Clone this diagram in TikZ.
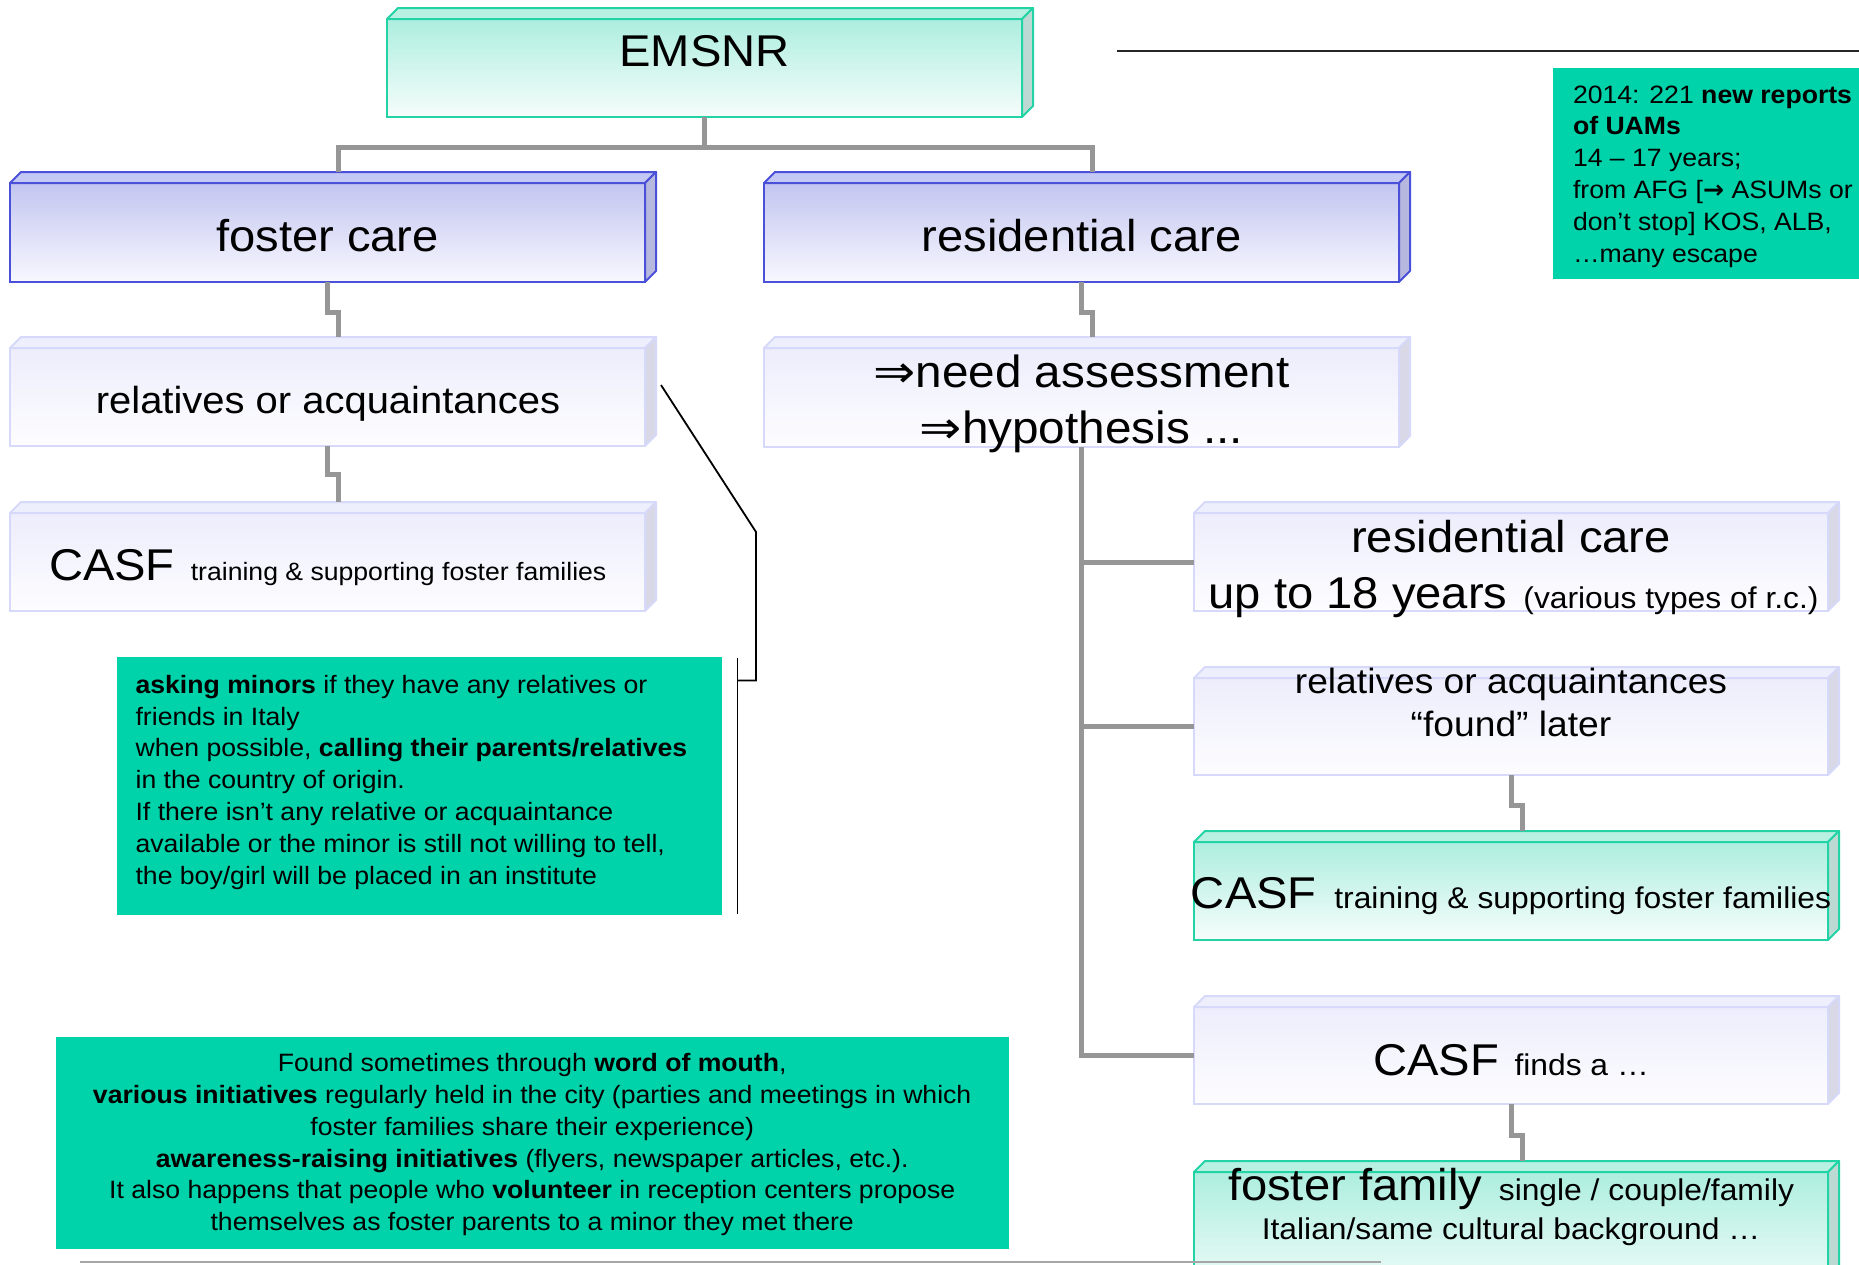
\documentclass[tikz,border=0pt]{standalone}
\usepackage{fontspec}
\setmainfont{Liberation Sans}[FakeStretch=1.06]
\newfontfamily\dejavu{DejaVu Sans}
\usetikzlibrary{calc}
\definecolor{gfill}{HTML}{00D2AA}
\definecolor{tealborder}{HTML}{22D3A6}
\definecolor{tealgtop}{HTML}{ADEEDF}
\definecolor{tealgbot}{HTML}{F6FDFB}
\definecolor{tealtopc}{HTML}{B8F0E2}
\definecolor{tealsidec}{HTML}{BCDAD3}
\definecolor{blueborder}{HTML}{4B50D9}
\definecolor{bluegtop}{HTML}{C2C5F0}
\definecolor{bluegbot}{HTML}{F8F8FE}
\definecolor{bluetopc}{HTML}{C4C8F4}
\definecolor{bluesidec}{HTML}{B6B8DE}
\definecolor{lightborder}{HTML}{D6D9FA}
\definecolor{lightgtop}{HTML}{EDEDFC}
\definecolor{lightgbot}{HTML}{FDFDFF}
\definecolor{lighttopc}{HTML}{EEEFFC}
\definecolor{lightsidec}{HTML}{D8D8E6}
\definecolor{connc}{HTML}{969696}
\newcommand\szbig{\fontsize{44.5}{50}\selectfont}
\newcommand\szna{\fontsize{45}{50}\selectfont}
\newcommand\szrelL{\fontsize{37.7}{44}\selectfont}
\newcommand\szrelR{\fontsize{35.1}{44}\selectfont}
\newcommand\szmed{\fontsize{30}{36}\selectfont}
\newcommand\szsmall{\fontsize{25.1}{31.8}\selectfont}
\newcommand\arrowR{\scalebox{1.12}[1]{\dejavu ⇒}}
\newcommand\boxfaces[2]{%
  \filldraw[#2top] (#1.north west) -- ([shift={(11,-11)}]#1.north west) -- ([shift={(11,-11)}]#1.north east) -- (#1.north east) -- cycle;
  \filldraw[#2side] (#1.north east) -- ([shift={(11,-11)}]#1.north east) -- ([shift={(11,-11)}]#1.south east) -- (#1.south east) -- cycle;}
\begin{document}
\begin{tikzpicture}[x=1pt,y=-1pt,
  box/.style={rectangle, anchor=north west, inner sep=0pt, outer sep=0pt, line width=2pt},
  tealbox/.style={box, draw=tealborder, top color=tealgtop, bottom color=tealgbot},
  bluebox/.style={box, draw=blueborder, top color=bluegtop, bottom color=bluegbot},
  lightbox/.style={box, draw=lightborder, top color=lightgtop, bottom color=lightgbot},
  tealtop/.style={draw=tealborder, fill=tealtopc, line width=2pt, line join=round},
  tealside/.style={draw=tealborder, fill=tealsidec, line width=2pt, line join=round},
  bluetop/.style={draw=blueborder, fill=bluetopc, line width=2pt, line join=round},
  blueside/.style={draw=blueborder, fill=bluesidec, line width=2pt, line join=round},
  lighttop/.style={draw=lightborder, fill=lighttopc, line width=2pt, line join=round},
  lightside/.style={draw=lightborder, fill=lightsidec, line width=2pt, line join=round},
  conn/.style={draw=connc, line width=5pt},
  callout/.style={draw=black, line width=1.8pt},
  gbox/.style={rectangle, anchor=north west, inner sep=0pt, outer sep=0pt, fill=gfill},
  txt/.style={inner sep=0pt, outer sep=0pt, anchor=base}]
\path[use as bounding box] (0,0) rectangle (1859,1264);
\clip (0,0) rectangle (1859,1264);
% boxes
\node[tealbox, minimum width=635pt, minimum height=98pt] (em) at (387,19) {};
\node[bluebox, minimum width=635pt, minimum height=99pt] (fc) at (10,183) {};
\node[bluebox, minimum width=635pt, minimum height=99pt] (rc) at (764,183) {};
\node[lightbox, minimum width=635pt, minimum height=98pt] (rl) at (10,348) {};
\node[lightbox, minimum width=635pt, minimum height=98pt] (cl) at (10,513) {};
\node[lightbox, minimum width=635pt, minimum height=99pt] (na) at (764,348) {};
\node[lightbox, minimum width=634pt, minimum height=98pt] (rc2) at (1194,513) {};
\node[lightbox, minimum width=634pt, minimum height=97pt] (rel2) at (1194,678) {};
\node[tealbox, minimum width=634pt, minimum height=98pt] (cs2) at (1194,842) {};
\node[lightbox, minimum width=634pt, minimum height=97pt] (fd) at (1194,1007) {};
\node[tealbox, minimum width=634pt, minimum height=130pt] (ff) at (1194,1172) {};
\boxfaces{em}{teal}
\boxfaces{fc}{blue}
\boxfaces{rc}{blue}
\boxfaces{rl}{light}
\boxfaces{cl}{light}
\boxfaces{na}{light}
\boxfaces{rc2}{light}
\boxfaces{rel2}{light}
\boxfaces{cs2}{teal}
\boxfaces{fd}{light}
\boxfaces{ff}{teal}
% connectors
\draw[conn] (em.south) -- ++(0,30) coordinate (emj);
\draw[conn] ([shift={(11,-11)}]fc.north) |- (emj) -| ([shift={(11,-11)}]rc.north);
\draw[conn] (fc.south) -- ++(0,30) -| ([shift={(11,-11)}]rl.north);
\draw[conn] (rl.south) -- ++(0,28) -| ([shift={(11,-11)}]cl.north);
\draw[conn] (rc.south) -- ++(0,30) -| ([shift={(11,-11)}]na.north);
\draw[conn] (rel2.south) -- ++(0,30) -| ([shift={(11,-11)}]cs2.north);
\draw[conn] (fd.south) -- ++(0,31) -| ([shift={(11,-11)}]ff.north);
\draw[conn] (na.south) |- (fd.west);
\draw[conn] (na.south) |- (rc2.west);
\draw[conn] (na.south) |- (rel2.west);
% green boxes
\node[gbox, minimum width=320pt, minimum height=211pt] (gr) at (1553,68) {};
\node[gbox, minimum width=605pt, minimum height=258pt] (gl) at (116.5,657) {};
\node[gbox, minimum width=953pt, minimum height=212pt] (gb) at (55.6,1037) {};
% callout lines
\coordinate (k1) at ([shift={(16,-12)}]rl.east);
\coordinate (k2) at (756,532);
\coordinate (k3) at (756,680.5);
\coordinate (k4) at (737.5,680.5);
\draw[callout] (k1) -- (k2) -- (k3) -- (k4);
\draw[callout] ([xshift=16pt,yshift=-1pt]gl.north east) -- ([xshift=16pt,yshift=1pt]gl.south east);
\coordinate (r1) at (1117,51);
\coordinate (r2) at (1860,51);
\draw[line width=2pt, draw=black!85] (r1) -- (r2);
\coordinate (b1) at (80,1262);
\coordinate (b2) at (1381,1262);
\draw[line width=2.5pt, draw=black!35] (b1) -- (b2);
% texts
\node[txt] (t-em) at (704.5,66.7) {\szbig EMSNR};
\node[txt] (t-fc) at (327.5,251.7) {\szbig foster care};
\node[txt] (t-rc) at (1081.5,251.7) {\szbig residential care};
\node[txt] (t-rl) at (328,413.3) {\szrelL relatives or acquaintances};
\node[txt, anchor=base west] (t-cl) at (49,580) {\szbig CASF\hspace{16pt}\szsmall training \& supporting foster families};
\node[txt] (t-na1) at (1081.5,387) {\szna\arrowR need assessment};
\node[txt] (t-na2) at (1081.5,443) {\szna\arrowR hypothesis ...};
\node[txt] (t-rc2a) at (1511,552.7) {\szbig residential care};
\node[txt] (t-rc2b) at (1513.5,608) {\szbig up to 18 years\hspace{16pt}\szmed(various types of r.c.)};
\node[txt] (t-rel2a) at (1511,693) {\szrelR relatives or acquaintances};
\node[txt] (t-rel2b) at (1511,736.7) {\szrelR “found” later};
\node[txt] (t-cs2) at (1511,908) {\szbig CASF\hspace{17.6pt}\szmed training \& supporting foster families};
\node[txt] (t-fd) at (1511,1075) {\szbig CASF\hspace{15.5pt}\szmed finds a …};
\node[txt] (t-ff1) at (1511,1200) {\szbig foster family\hspace{16.6pt}\szmed single / couple/family};
\node[txt] (t-ff2) at (1511,1239) {\szmed Italian/same cultural background …};
\node[txt, anchor=base west] (t-gr) at (1573,103) {\parbox[t]{400pt}{\szsmall\raggedright
  2014: 221 \textbf{new reports}\\
  \textbf{of UAMs}\\
  14 – 17 years;\\
  from AFG [{\dejavu\bfseries →} ASUMs or\\
  don’t stop] KOS, ALB,\\
  …many escape}};
\node[txt, anchor=base west] (t-gl) at (135.6,693.3) {\parbox[t]{700pt}{\szsmall\raggedright
  \textbf{asking minors} if they have any relatives or\\
  friends in Italy\\
  when possible, \textbf{calling their parents/relatives}\\
  in the country of origin.\\
  If there isn’t any relative or acquaintance\\
  available or the minor is still not willing to tell,\\
  the boy/girl will be placed in an institute}};
\node[txt] (t-gb) at (532.2,1071.7) {\parbox[t]{1100pt}{\szsmall\centering
  Found sometimes through \textbf{word of mouth},\\
  \textbf{various initiatives} regularly held in the city (parties and meetings in which\\
  foster families share their experience)\\
  \textbf{awareness-raising initiatives} (flyers, newspaper articles, etc.).\\
  It also happens that people who \textbf{volunteer} in reception centers propose\\
  themselves as foster parents to a minor they met there}};
\end{tikzpicture}
\end{document}
